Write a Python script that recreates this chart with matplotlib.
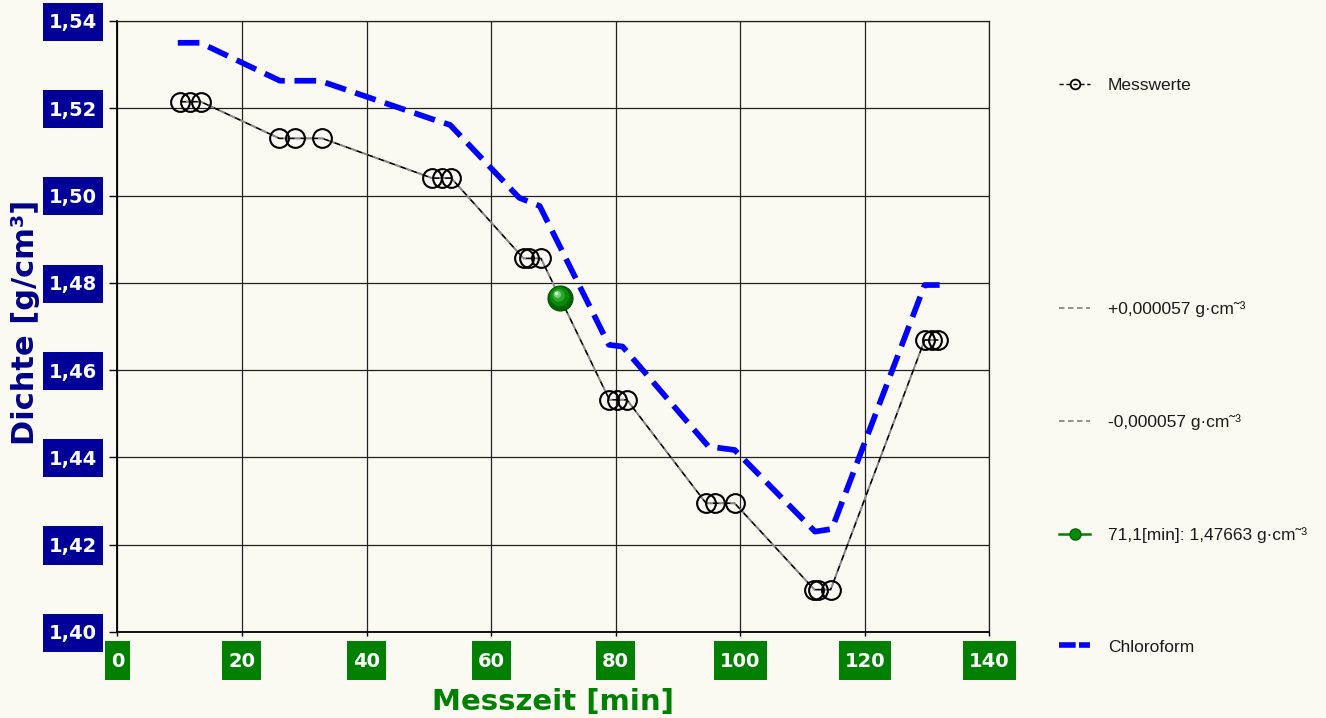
import matplotlib
matplotlib.use('Agg')
import matplotlib.pyplot as plt
from matplotlib.lines import Line2D
from matplotlib.path import Path
from matplotlib.transforms import offset_copy

# Messwerte (Zeit in min, Dichte in g/cm3)
mess_zeit = [10.1, 11.6, 13.4, 26.0, 28.5, 32.9, 50.5, 52.1, 53.6,
             65.2, 66.1, 68.0, 79.0, 80.2, 81.8, 94.5, 95.9, 99.1,
             111.9, 112.4, 114.5, 129.6, 130.7, 131.8]
mess_dichte = [1.5215, 1.5215, 1.5215, 1.5131, 1.5131, 1.5131, 1.5040, 1.5040, 1.5040,
               1.4856, 1.4856, 1.4856, 1.4532, 1.4532, 1.4532, 1.4295, 1.4295, 1.4295,
               1.4097, 1.4097, 1.4097, 1.4669, 1.4669, 1.4669]
toleranz = 0.000057

# Chloroform Referenzkurve
chl_zeit = [9.7, 13.3, 26.1, 32.5, 51.8, 53.4, 64.5, 67.8, 78.9, 81.1,
            94.9, 99.1, 112.0, 114.7, 129.6, 132.0]
chl_dichte = [1.5350, 1.5350, 1.5263, 1.5263, 1.5169, 1.5162, 1.4995, 1.4976, 1.4658, 1.4654,
              1.4425, 1.4417, 1.4230, 1.4236, 1.4795, 1.4795]

# markierter Punkt
punkt_zeit = 71.1
punkt_dichte = 1.47663

x_ticks = [0, 20, 40, 60, 80, 100, 120, 140]
y_ticks = [1.40, 1.42, 1.44, 1.46, 1.48, 1.50, 1.52, 1.54]
y_tick_labels = ['1,40', '1,42', '1,44', '1,46', '1,48', '1,50', '1,52', '1,54']

bg = '#FAF9F2'
blau_box = '#000099'
gruen = '#008000'


def tick_box(x0, y0, width, height, mutation_size):
    # Kasten mit fester Hoehe um die Tick-Beschriftung
    px = 0.31 * mutation_size
    half = 0.98 * mutation_size
    cy = y0 + height / 2 + 0.06 * mutation_size
    x1 = x0 + width + px
    xa = x0 - px
    return Path([(xa, cy - half), (x1, cy - half), (x1, cy + half), (xa, cy + half), (xa, cy - half)],
                closed=True)


fig = plt.figure(figsize=(13.26, 7.18), dpi=100, facecolor=bg)
ax = fig.add_axes([0.0885, 0.1198, 0.6577, 0.851])
ax.set_facecolor(bg)

# Toleranzlinien (grau) unter der Messlinie
plus = [d + toleranz for d in mess_dichte]
minus = [d - toleranz for d in mess_dichte]
ax.plot(mess_zeit, plus, color='#888888', lw=1.2, ls=(3.5, (3.5, 3.5)), zorder=3)
ax.plot(mess_zeit, minus, color='#888888', lw=1.2, ls=(3.5, (3.5, 3.5)), zorder=3)

# Messwerte
ax.plot(mess_zeit, mess_dichte, color='black', lw=1.2, ls=(0, (3.5, 3.5)),
        marker='o', markersize=13.5, markerfacecolor='none', markeredgecolor='black',
        markeredgewidth=1.5, zorder=4)

# Chloroform
ax.plot(chl_zeit, chl_dichte, color='#0000FF', lw=4.1, ls=(0, (3.8, 1.7)),
        solid_capstyle='butt', zorder=5)

# markierter Punkt als "Kugel"
ax.plot([punkt_zeit], [punkt_dichte], 'o', markersize=18, color='#006400',
        markeredgecolor='#005000', markeredgewidth=0.8, zorder=6)
for i, (ms, col) in enumerate([(14, '#0A8A0A'), (9, '#2DA82D'), (5, '#7FD07F'), (2.5, '#E0F5E0')]):
    tr = offset_copy(ax.transData, fig=fig, x=-1.0 - i * 0.8, y=1.0 + i * 0.8, units='points')
    ax.plot([punkt_zeit], [punkt_dichte], 'o', markersize=ms, color=col,
            markeredgewidth=0, transform=tr, zorder=7)

ax.set_xlim(0, 140)
ax.set_ylim(1.40, 1.54)
ax.set_xticks(x_ticks)
ax.set_xticklabels([str(v) for v in x_ticks])
ax.set_yticks(y_ticks)
ax.set_yticklabels(y_tick_labels)

ax.grid(True, color='#222222', lw=0.9)
ax.set_axisbelow(True)
for s in ['top', 'right']:
    ax.spines[s].set_linewidth(0.9)
    ax.spines[s].set_color('#222222')
for s in ['left', 'bottom']:
    ax.spines[s].set_linewidth(1.3)
    ax.spines[s].set_color('black')

ax.tick_params(axis='y', direction='out', length=6, width=1, pad=8.5)
ax.tick_params(axis='x', direction='out', length=3, width=1, pad=11.5)

for lab in ax.get_yticklabels():
    lab.set_fontfamily('DejaVu Sans')
    lab.set_fontweight('bold')
    lab.set_fontsize(14)
    lab.set_color('white')
    lab.set_bbox(dict(boxstyle=tick_box, facecolor=blau_box, edgecolor='none'))
for lab in ax.get_xticklabels():
    lab.set_fontfamily('DejaVu Sans')
    lab.set_fontweight('bold')
    lab.set_fontsize(14)
    lab.set_color('white')
    lab.set_bbox(dict(boxstyle=tick_box, facecolor=gruen, edgecolor='none'))

ax.set_xlabel('Messzeit [min]', fontsize=21, fontweight='bold', color=gruen,
              family='DejaVu Sans', labelpad=12)
ax.set_ylabel('Dichte [g/cm³]', fontsize=22, fontweight='bold', color='#000088',
              family='DejaVu Sans')
ax.yaxis.set_label_coords(-0.0886, 0.5065)

# Legende rechts
handles = [
    Line2D([], [], color='black', lw=1, ls=(0, (3, 2)), marker='o', markersize=7,
           markerfacecolor='none', markeredgewidth=1.3),
    Line2D([], [], color='none'),
    Line2D([], [], color='#888888', lw=1.3, ls=(0, (3, 2))),
    Line2D([], [], color='#888888', lw=1.3, ls=(0, (3, 2))),
    Line2D([], [], color=gruen, lw=1.8, marker='o', markersize=8,
           markerfacecolor='#0A8A0A', markeredgecolor='#006400'),
    Line2D([], [], color='#0000FF', lw=4, ls=(0, (3, 0.6))),
]
labels = ['Messwerte', '', '+0,000057 g·cm˜³', '-0,000057 g·cm˜³',
          '71,1[min]: 1,47663 g·cm˜³', 'Chloroform']
leg = fig.legend(handles, labels, loc='upper left', bbox_to_anchor=(0.7986, 0.8916),
                 frameon=False, borderpad=0, borderaxespad=0, handlelength=1.8,
                 handletextpad=1.03, labelspacing=5.57,
                 prop={'family': ['Liberation Sans', 'DejaVu Sans'], 'size': 12.5})
for t in leg.get_texts():
    t.set_color('#1a1a1a')

fig.savefig('out.png', dpi=100, facecolor=bg)
